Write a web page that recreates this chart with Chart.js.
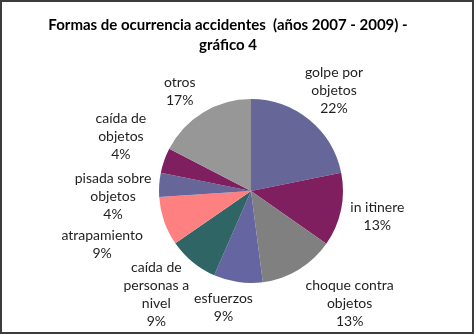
<!DOCTYPE html>
<html>
<head>
<meta charset="utf-8">
<script src="https://cdn.jsdelivr.net/npm/chart.js"></script>
<style>
  html, body { margin: 0; padding: 0; background: #fff; }
  #wrap { width: 474px; height: 334px; position: relative; }
</style>
</head>
<body>
<div id="wrap"><canvas id="pie" width="474" height="334"></canvas></div>
<script>
// datos
const titulo = ['Formas de ocurrencia accidentes  (años 2007 - 2009) -', 'gráfico 4'];
const categorias = [
    ['golpe por', 'objetos'],
    ['in itinere'],
    ['choque contra', 'objetos'],
    ['esfuerzos'],
    ['caída de', 'personas a', 'nivel'],
    ['atrapamiento'],
    ['pisada sobre', 'objetos'],
    ['caída de', 'objetos'],
    ['otros']
];
const valores = [21.8, 12.9, 13.2, 8.6, 8.8, 8.6, 4.2, 4.4, 17.4];
const colores = ['#666699', '#7f1f5f', '#808080', '#6565a2', '#2f6565', '#ff8080', '#666699', '#7f1f5f', '#979797'];

// ajuste fino de etiquetas (px), como el "mejor ajuste" de Excel
const ajusteEtiquetas = [[0, -1], [0, 1], [23, 2], [-9, -2], [-9, -3], [-14, 14], [2, 14], [-10, -12], [-10, 3]];

const FONT = '"Lato", "Open Sans", sans-serif';

// título centrado en el área del gráfico (no en el área de la torta)
const tituloPlugin = {
    id: 'tituloExcel',
    afterDraw(chart) {
        const ctx = chart.ctx;
        ctx.save();
        ctx.font = 'bold 15px ' + FONT;
        ctx.fillStyle = '#000';
        ctx.textAlign = 'center';
        ctx.textBaseline = 'middle';
        titulo.forEach((t, k) => ctx.fillText(t, 228, 25 + k * 20));
        ctx.restore();
    }
};

const etiquetasPlugin = {
    id: 'etiquetas',
    afterDatasetsDraw(chart) {
        const ctx = chart.ctx;
        const meta = chart.getDatasetMeta(0);
        const total = valores.reduce((a, b) => a + b, 0);
        ctx.save();
        ctx.font = '14px ' + FONT;
        ctx.fillStyle = '#1f1f1f';
        ctx.textAlign = 'center';
        ctx.textBaseline = 'middle';
        const lh = 18;
        meta.data.forEach((arc, i) => {
            const p = arc.getProps(['x', 'y', 'startAngle', 'endAngle', 'outerRadius'], true);
            const mid = (p.startAngle + p.endAngle) / 2;
            const dx = Math.cos(mid), dy = Math.sin(mid);
            const lineas = categorias[i].concat([Math.round(valores[i] / total * 100) + '%']);
            const w = Math.max(...lineas.map(t => ctx.measureText(t).width));
            const h = lineas.length * lh;
            const r = p.outerRadius + 10;
            const cx = p.x + dx * r + dx * w / 2 + ajusteEtiquetas[i][0];
            const cy = p.y + dy * r + dy * h / 2 + ajusteEtiquetas[i][1];
            lineas.forEach((t, k) => {
                ctx.fillText(t, cx, cy - h / 2 + lh / 2 + k * lh);
            });
        });
        ctx.restore();
    }
};

const bordePlugin = {
    id: 'borde',
    afterDraw(chart) {
        const ctx = chart.ctx;
        ctx.save();
        ctx.strokeStyle = '#3c3c3c';
        ctx.lineWidth = 2;
        ctx.strokeRect(1, 1, chart.width - 2, chart.height - 2);
        ctx.restore();
    }
};

new Chart(document.getElementById('pie'), {
    type: 'pie',
    data: {
        labels: categorias,
        datasets: [{
            data: valores,
            backgroundColor: colores,
            borderWidth: 0
        }]
    },
    options: {
        responsive: false,
        animation: false,
        layout: { padding: { top: 99, bottom: 51, left: 100, right: 72 } },
        plugins: {
            legend: { display: false },
            tooltip: { enabled: false },
            title: { display: false }
        }
    },
    plugins: [etiquetasPlugin, tituloPlugin, bordePlugin]
});
</script>
</body>
</html>
